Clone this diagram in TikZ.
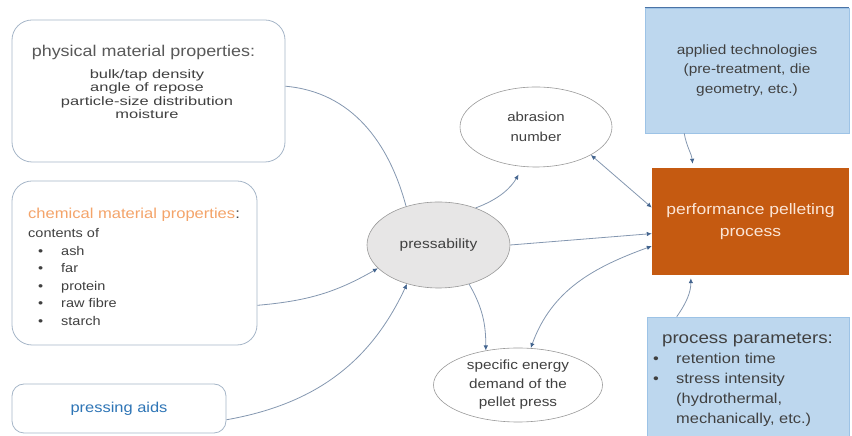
\documentclass[tikz,border=0pt]{standalone}
\usepackage{fontspec}
\setmainfont{Liberation Sans}[FakeStretch=1.15]
\newfontfamily\widefont{Liberation Sans}[FakeStretch=1.35]
\usepackage{xcolor}
\usepackage{tikz}
\usetikzlibrary{arrows.meta, shapes.geometric, positioning}
\definecolor{linegray}{HTML}{8497B0}
\definecolor{tipblue}{HTML}{44658F}
\definecolor{boxline}{HTML}{A6B6C8}
\definecolor{txtgray}{HTML}{404040}
\definecolor{titlegray}{HTML}{595959}
\definecolor{chemorange}{HTML}{F4A46A}
\definecolor{aidsblue}{HTML}{2E75B6}
\definecolor{lightblue}{HTML}{BDD7EE}
\definecolor{blueline}{HTML}{9DC3E6}
\definecolor{darkblue}{HTML}{4A73A6}
\definecolor{rust}{HTML}{C55A11}
\definecolor{peach}{HTML}{FBE5D6}
\definecolor{ellgray}{HTML}{E7E6E6}
\newcommand{\fsz}[2]{\fontsize{#1}{#2}\selectfont}
\newcommand{\bul}[1]{\makebox[23pt][l]{\textbullet}#1}
\tikzset{
    roundnode/.style = {draw=boxline, rectangle, rounded corners=20pt, line width=0.8pt, fill=white},
    rectanglenode/.style = {draw=blueline, rectangle, fill=lightblue, line width=0.6pt, text=txtgray, align=center},
    ellipsenode/.style = {draw=gray!80, ellipse, inner sep=0pt, line width=0.6pt, text=txtgray, align=center},
    textnode/.style = {draw=none, fill=none, rectangle, inner sep=0pt, text=txtgray},
    connect/.style = {linegray, line width=0.8pt, ->},
    twoway/.style = {linegray, line width=0.8pt, <->},
    plain/.style = {linegray, line width=0.8pt},
    >={Latex[length=5pt, width=4.5pt, color=tipblue]}
}
\begin{document}
\begin{tikzpicture}[x=1pt, y=1pt]
    \useasboundingbox (0,0) rectangle (852,436);

    % left hand boxes
    \node [name=phys, roundnode, minimum width=273pt, minimum height=142pt] at (148.5,345) {};
    \node [name=phystitle, textnode, text=titlegray, font=\fsz{15.6}{18}, anchor=base] at (143.5,379) {physical material properties:};
    \node [name=physbody, textnode, align=center, font=\widefont\fsz{12.2}{13.5}, below=9pt of phystitle, xshift=3.5pt] {bulk/tap density\\ angle of repose\\ particle-size distribution\\ moisture};

    \node [name=chem, roundnode, minimum width=245pt, minimum height=164pt] at (134.5,173) {};
    \node [name=chemtitle, textnode, font=\fsz{14.4}{17}, anchor=base west] at (28,217) {\textcolor{chemorange}{chemical material properties}:};
    \node [name=chembody, textnode, font=\fsz{12.6}{17.5}, align=left, below=6pt of chemtitle.south west, anchor=north west] {contents of\\ \hspace*{10pt}\bul{ash}\\ \hspace*{10pt}\bul{far}\\ \hspace*{10pt}\bul{protein}\\ \hspace*{10pt}\bul{raw fibre}\\ \hspace*{10pt}\bul{starch}};

    \node [name=aids, roundnode, rounded corners=12pt, minimum width=214pt, minimum height=49pt, text=aidsblue, font=\fsz{14.3}{16}] at (119,27.5) {pressing aids};

    % ellipses
    \node [name=press, ellipsenode, fill=ellgray, minimum width=143pt, minimum height=86pt, font=\fsz{13.5}{16}] at (438.5,191) {pressability};
    \node [name=abr, ellipsenode, fill=white, minimum width=152pt, minimum height=80pt, font=\fsz{13}{19.5}] at (536,309) {abrasion\\ number};
    \node [name=spec, ellipsenode, fill=white, minimum width=169pt, minimum height=74pt, font=\fsz{13.3}{18.5}] at (518,51) {specific energy\\ demand of the\\ pellet press};

    % right hand boxes
    \node [name=appl, rectanglenode, minimum width=204pt, minimum height=125pt, font=\fsz{13.4}{19.5}] at (747,365.5) {applied technologies\\ (pre-treatment, die\\ geometry, etc.)};
    \draw [darkblue, line width=1.5pt] (appl.north west) -- (appl.north east);
    \node [name=perf, rectangle, fill=rust, text=peach, align=center, minimum width=197pt, minimum height=107pt, font=\fsz{15.2}{22}] at (750.5,214.5) {performance pelleting\\ process};
    \node [name=proc, rectanglenode, minimum width=202pt, minimum height=119pt] at (748,59.5) {};
    \node [name=proctitle, textnode, font=\fsz{16.3}{18}, anchor=base] at (747.5,92) {process parameters:};
    \node [name=procbody, textnode, font=\fsz{14.3}{20}, align=left, anchor=north west] at (653,83) {\bul{retention time}\\ \bul{stress intensity}\\ \hspace*{23pt}(hydrothermal,\\ \hspace*{23pt}mechanically, etc.)};

    % connectors
    \draw (phys.2) edge[plain, out=-5, in=105] (press.130);
    \draw (chem.-19) edge[connect, out=5, in=210] (press.201);
    \draw (aids.-6) edge[connect, out=10, in=245] (press.231);
    \draw (press.45) edge[connect, out=20, in=240, shorten >=9pt] (abr.252);
    \draw (press.east) edge[connect] (perf.187);
    \draw (press.-52) edge[connect, out=-60, in=90] (spec.133);
    \draw (abr.-27) edge[twoway] (perf.172);
    \draw (perf.194) edge[twoway, out=200, in=70] (spec.71);
    \draw (appl.-135) edge[connect, out=-80, in=95, shorten >=4pt] (perf.137);
    \draw (proc.140) edge[connect, out=55, in=-90, shorten >=3pt] (perf.-138);
\end{tikzpicture}
\end{document}
